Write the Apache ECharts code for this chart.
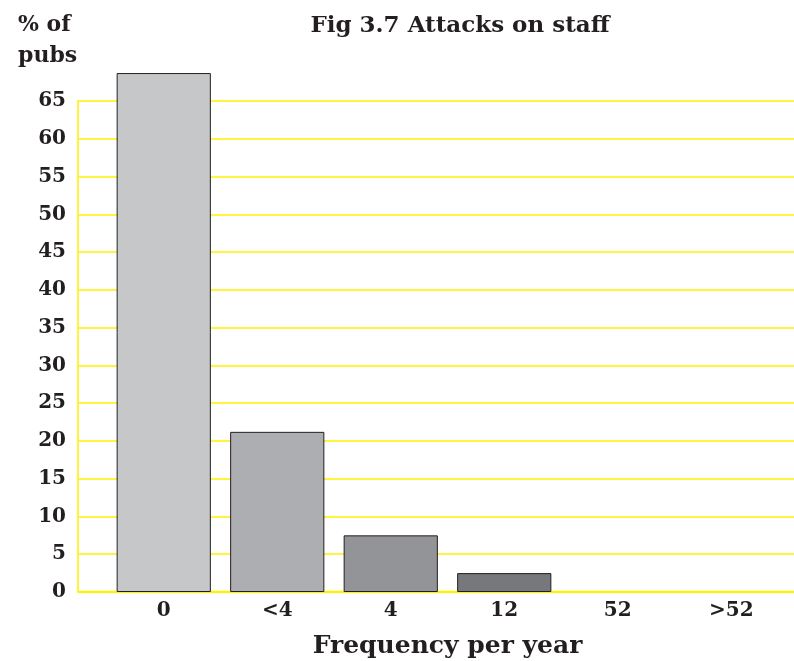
<!DOCTYPE html>
<html><head><meta charset="utf-8">
<script src="https://cdn.jsdelivr.net/npm/echarts@6/dist/echarts.min.js"></script>
<style>html,body{margin:0;padding:0;background:#fff}#c{width:794px;height:661px}</style>
</head><body><div id="c"></div>
<script>
const categories = ['0', '<4', '4', '12', '52', '>52'];
const values = [68.7, 21.2, 7.5, 2.5, 0, 0];
const barColors = ['#c6c7c9', '#adaeb1', '#939497', '#77787b', '#6a6b6e', '#5e5f62'];
const yMax = 65, yInterval = 5;

const font = 'DejaVu Serif';
const ink = '#231f20';
const yellow = '#fff200';
const chart = echarts.init(document.getElementById('c'));
chart.setOption({
  animation: false,
  title: [
    {text: 'Fig 3.7 Attacks on staff', left: 455, top: 10, textAlign: 'center',
     textStyle: {fontFamily: font, fontWeight: 'bold', fontSize: 23, color: ink}},
    {text: '% of\npubs', left: 13, top: 5,
     textStyle: {fontFamily: font, fontWeight: 'bold', fontSize: 22, color: ink, lineHeight: 31}}
  ],
  grid: [
    {left: 78, right: 0, top: 101, bottom: 69, containLabel: false, outerBoundsMode: 'none'},
    {left: 107, width: 681, top: 101, bottom: 69, containLabel: false, outerBoundsMode: 'none'}
  ],
  xAxis: [
    {gridIndex: 0, type: 'value', show: false, min: 0, max: 1},
    {gridIndex: 1, type: 'category', data: categories,
     axisLine: {show: false}, axisTick: {show: false},
     axisLabel: {margin: 9, fontFamily: font, fontWeight: 'bold', fontSize: 20, color: ink},
     name: 'Frequency per year', nameLocation: 'middle', nameGap: 42,
     nameTextStyle: {fontFamily: font, fontWeight: 'bold', fontSize: 25, color: ink}}
  ],
  yAxis: [
    {gridIndex: 0, type: 'value', min: 0, max: yMax, interval: yInterval,
     axisLine: {show: true, lineStyle: {color: yellow, width: 1.5}},
     axisTick: {show: false},
     axisLabel: {margin: 12, fontFamily: font, fontWeight: 'bold', fontSize: 20, color: ink},
     splitLine: {show: true, lineStyle: {color: yellow, width: 1.5}}},
    {gridIndex: 1, type: 'value', min: 0, max: yMax, interval: yInterval, show: false,
     splitLine: {show: false}}
  ],
  series: [
    {type: 'line', xAxisIndex: 0, yAxisIndex: 0, data: [[0, 0], [1, 0]], symbol: 'none',
     lineStyle: {color: yellow, width: 2.5}, silent: true, z: 1},
    {type: 'bar', xAxisIndex: 1, yAxisIndex: 1, clip: false, barCategoryGap: '17%',
     data: values.map((v, i) => ({value: v,
       itemStyle: {color: barColors[i], borderWidth: v > 0 ? 1 : 0}})),
     itemStyle: {borderColor: ink}, z: 3}
  ]
});
</script></body></html>
